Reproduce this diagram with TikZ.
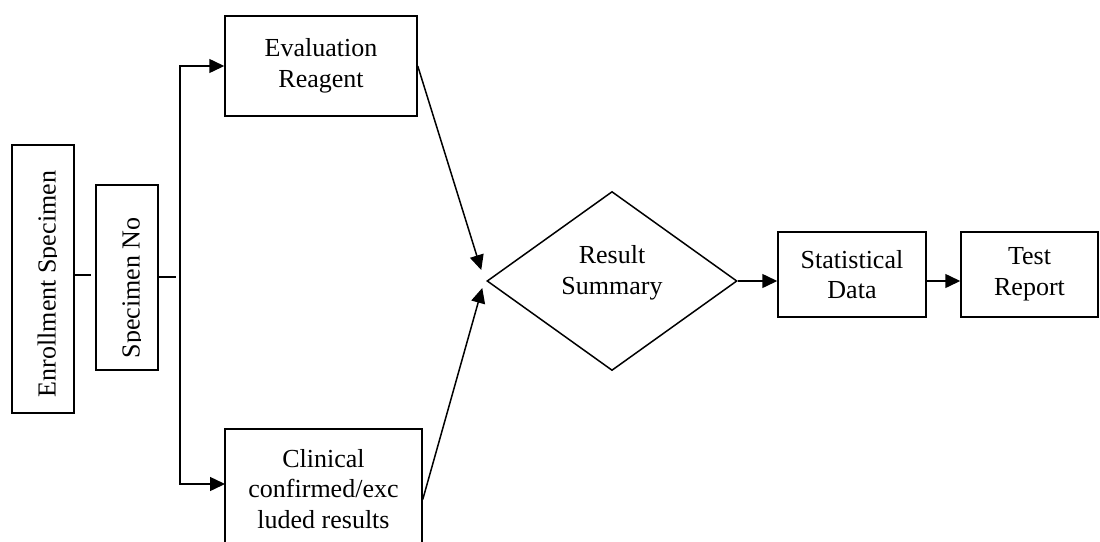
\documentclass[tikz,border=0pt]{standalone}
\usepackage{fontspec}
\setmainfont{Liberation Serif}
\usetikzlibrary{arrows.meta,shapes.geometric}
\begin{document}
\begin{tikzpicture}[x=1pt,y=-1pt,
 box/.style={draw,line width=1.5pt,inner sep=0pt},
 txt/.style={font=\fontsize{26}{30.5}\selectfont,align=center},
 conn/.style={line width=1.5pt},
 arr/.style={line width=1.5pt,-{Triangle[length=15pt,width=14pt]}}]
\useasboundingbox (0,0) rectangle (1100,541);
% left boxes
\node[box,minimum width=62pt,minimum height=268pt] (enroll) at (43,279) {};
\begin{scope}
\clip (0,0) rectangle (56.5,541);
\node[txt,rotate=90,anchor=base] (enrolltext) at (55.5,284) {Enrollment Specimen};
\end{scope}
\node[box,minimum width=62pt,minimum height=185pt] (spec) at (127,277.5) {};
\begin{scope}
\clip (0,0) rectangle (140.5,541);
\node[txt,rotate=90,anchor=base] (spectext) at (139.5,288) {Specimen No};
\end{scope}
% other nodes
\node[box,txt,minimum width=192pt,minimum height=100pt] (eval) at (321,66) {Evaluation\\Reagent};
\node[box,minimum width=197pt,minimum height=141pt] (clin) at (323.5,499.5) {};
\node[txt] (clintext) at (323.5,489) {Clinical\\confirmed/exc\\luded results};
\node[draw,diamond,line width=1.5pt,minimum width=250pt,minimum height=179pt,inner sep=0pt,aspect=1.4] (dia) at (612,281) {};
\node[txt] (diatext) at (612,273) {Result\\Summary};
\node[box,txt,minimum width=148pt,minimum height=85pt] (stat) at (852,274.5) {Statistical\\Data};
\node[box,txt,minimum width=137pt,minimum height=85pt] (test) at (1029.5,274.5) {Test\\Report};
% connectors
\coordinate (j1) at (91,275);
\coordinate (j2) at (176,277);
\coordinate (bus) at (180,277);
\coordinate (clinin) at (225,484);
\draw[conn] (enroll.east |- j1) -- (j1);
\draw[conn] (spec.east |- j2) -- (j2);
\draw[arr] (bus) |- (eval.west);
\draw[arr] (bus) |- (clinin);
\draw[arr] (eval.east) -- ([shift={(-5,-11)}]dia.west);
\draw[arr] (clin.east) -- ([shift={(-4,7)}]dia.west);
\draw[arr] (dia.east) -- (dia.east -| stat.west);
\draw[arr] (stat.east |- dia.east) -- (test.west |- dia.east);
\end{tikzpicture}
\end{document}
